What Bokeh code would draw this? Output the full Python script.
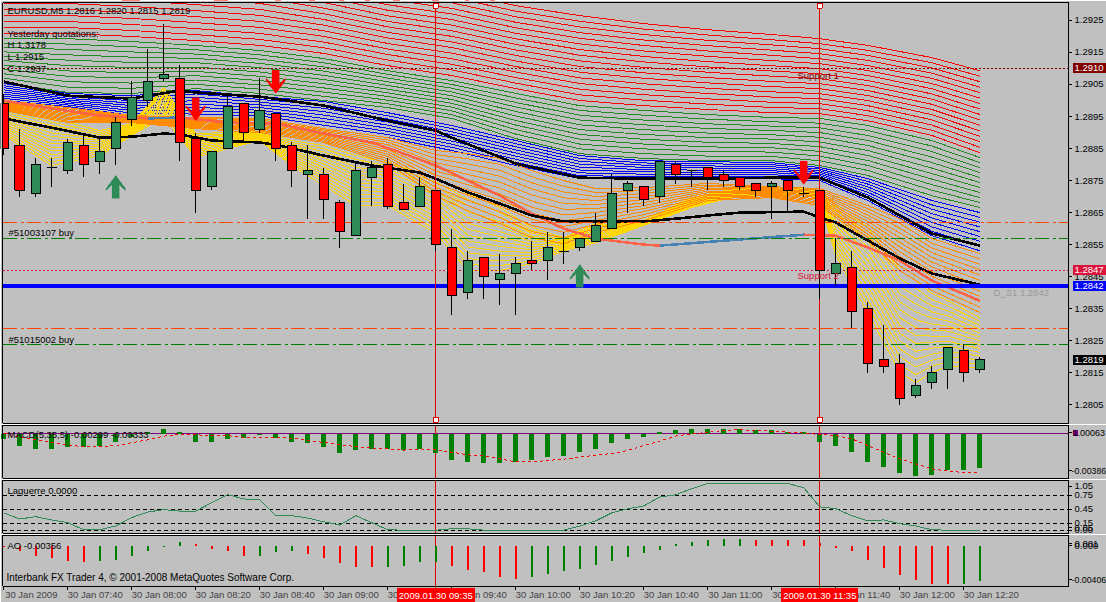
from bokeh.plotting import figure
from bokeh.layouts import column
from bokeh.document import Document
from bokeh.models import Range1d, FixedTicker, Label, LinearAxis, CustomJS
from bokeh.embed import file_html
from bokeh.resources import INLINE

# ---------- candles (EURUSD M5, bar 0 = 07:20) ----------
opens = [1.2899,1.2886,1.2871,1.2879,1.2878,1.2886,1.2881,1.2885,1.2894,1.2900,1.2907,1.2907,1.2888,1.2873,1.2885,1.2899,1.2891,1.2896,1.2886,1.2877,1.2877,1.2868,1.2858,1.2876,1.2880,1.2868,1.2867,1.2872,1.2854,1.2840,1.2851,1.2844,1.2846,1.2850,1.2850,1.2853,1.2854,1.2856,1.2860,1.2872,1.2873,1.2870,1.2880,1.2878,1.2879,1.2877,1.2876,1.2874,1.2873,1.2875,1.2871,1.2872,1.2846,1.2848,1.2835,1.2819,1.2818,1.2808,1.2812,1.2816,1.2822,1.2816]
highs = [1.2902,1.2891,1.2882,1.2882,1.2888,1.2890,1.2888,1.2895,1.2906,1.2916,1.2924,1.2911,1.2890,1.2884,1.2902,1.2899,1.2907,1.2896,1.2887,1.2886,1.2879,1.2869,1.2881,1.2881,1.2882,1.2874,1.2876,1.2872,1.2860,1.2853,1.2851,1.2852,1.2851,1.2856,1.2859,1.2859,1.2857,1.2865,1.2877,1.2875,1.2873,1.2881,1.2881,1.2878,1.2879,1.2878,1.2876,1.2874,1.2875,1.2875,1.2873,1.2872,1.2857,1.2853,1.2837,1.2830,1.2821,1.2813,1.2817,1.2823,1.2824,1.2820]
lows  = [1.2883,1.2870,1.2870,1.2873,1.2877,1.2876,1.2877,1.2880,1.2892,1.2898,1.2906,1.2881,1.2865,1.2872,1.2885,1.2887,1.2890,1.2881,1.2873,1.2863,1.2863,1.2854,1.2858,1.2867,1.2866,1.2866,1.2867,1.2853,1.2833,1.2838,1.2838,1.2836,1.2833,1.2847,1.2844,1.2849,1.2853,1.2856,1.2860,1.2865,1.2867,1.2868,1.2874,1.2873,1.2872,1.2873,1.2872,1.2870,1.2863,1.2865,1.2870,1.2838,1.2842,1.2829,1.2815,1.2815,1.2805,1.2807,1.2810,1.2810,1.2812,1.2815]
closes= [1.2885,1.2872,1.2880,1.2879,1.2887,1.2880,1.2884,1.2893,1.2901,1.2906,1.2908,1.2887,1.2872,1.2884,1.2898,1.2890,1.2897,1.2885,1.2878,1.2878,1.2869,1.2859,1.2878,1.2879,1.2867,1.2866,1.2873,1.2855,1.2839,1.2850,1.2845,1.2846,1.2849,1.2849,1.2854,1.2853,1.2857,1.2861,1.2871,1.2874,1.2869,1.2881,1.2877,1.2878,1.2876,1.2875,1.2873,1.2872,1.2874,1.2872,1.2871,1.2847,1.2849,1.2834,1.2818,1.2817,1.2807,1.2811,1.2815,1.2823,1.2815,1.2819]

# ---------- moving-average bands, edges read at these bars ----------
band_bars = [0,4,8,12,16,20,24,28,32,36,40,44,48,51,54,58,61]
red_top   = [1.29490,1.29490,1.29481,1.29468,1.29453,1.29412,1.29368,1.29340,1.29296,1.29265,1.29240,1.29221,1.29206,1.29193,1.29172,1.29134,1.29093]
red_bot   = [1.29209,1.29209,1.29200,1.29187,1.29172,1.29147,1.29109,1.29078,1.29037,1.29000,1.28984,1.28972,1.28962,1.28959,1.28937,1.28891,1.28837]
green_top = [1.29193,1.29193,1.29184,1.29172,1.29156,1.29131,1.29093,1.29062,1.29022,1.28984,1.28969,1.28956,1.28947,1.28944,1.28922,1.28875,1.28822]
green_bot = [1.29056,1.29025,1.29022,1.29037,1.29022,1.29000,1.28978,1.28944,1.28881,1.28834,1.28819,1.28812,1.28812,1.28797,1.28766,1.28703,1.28666]
blue_top  = [1.29053,1.29022,1.29015,1.29031,1.29012,1.28997,1.28962,1.28922,1.28875,1.28828,1.28812,1.28809,1.28806,1.28791,1.28756,1.28688,1.28650]
blue_bot  = [1.29000,1.28981,1.28953,1.28947,1.28944,1.28912,1.28884,1.28844,1.28797,1.28756,1.28756,1.28756,1.28756,1.28750,1.28688,1.28578,1.28531]

orange_bars = [0,4,8,12,16,20,24,27,29,31,33,35,37,40,44,48,51,54,56,58,61]
orange_top  = [1.29000,1.28978,1.28953,1.28947,1.28944,1.28912,1.28884,1.28844,1.28834,1.28819,1.28781,1.28750,1.28725,1.28728,1.28741,1.28731,1.28725,1.28672,1.28631,1.28569,1.28522]
orange_bot  = [1.28969,1.28931,1.28931,1.28912,1.28900,1.28869,1.28803,1.28703,1.28656,1.28616,1.28572,1.28553,1.28588,1.28625,1.28688,1.28697,1.28672,1.28563,1.28469,1.28407,1.28338]

yellow_bars = [0,3,6,8,10,12,14,16,18,20,22,24,27,29,31,33,35,37,40,43,46,50,51,52,54,56,57,58,59,61]
yellow_top  = [1.28969,1.28944,1.28906,1.28928,1.29040,1.28897,1.28900,1.28903,1.28875,1.28859,1.28828,1.28806,1.28759,1.28709,1.28666,1.28603,1.28572,1.28616,1.28625,1.28697,1.28728,1.28725,1.28719,1.28672,1.28603,1.28469,1.28438,1.28397,1.28375,1.28322]
yellow_bot  = [1.28891,1.28797,1.28828,1.28891,1.28947,1.28822,1.28850,1.28875,1.28797,1.28734,1.28672,1.28672,1.28585,1.28469,1.28469,1.28491,1.28531,1.28556,1.28610,1.28666,1.28703,1.28709,1.28688,1.28516,1.28338,1.28151,1.28119,1.28151,1.28169,1.28166]

upper_bars = [0,4,8,11,12,16,20,24,27,28,32,36,40,44,48,51,54,56,58,61]
upper_line = [1.29059,1.29015,1.29006,1.29031,1.29025,1.29012,1.28984,1.28937,1.28906,1.28884,1.28803,1.28759,1.28756,1.28756,1.28759,1.28759,1.28697,1.28641,1.28585,1.28547]
lower_bars = [0,3,6,8,10,11,13,16,17,20,23,26,27,29,31,33,35,40,42,44,46,50,51,52,54,56,58,61]
lower_line = [1.28944,1.28915,1.28884,1.28887,1.28897,1.28894,1.28875,1.28869,1.28862,1.28828,1.28797,1.28775,1.28756,1.28713,1.28678,1.28641,1.28622,1.28622,1.28631,1.28641,1.28650,1.28653,1.28635,1.28619,1.28563,1.28507,1.28460,1.28425]

salmon_runs = [
    ([0,3,6,9], [1.29000,1.28975,1.28953,1.28944]),
    ([11,14,17,20,23,25,27,29,31,33,35,37,40,41], [1.28947,1.28931,1.28928,1.28897,1.28869,1.28834,1.28797,1.28750,1.28703,1.28647,1.28600,1.28569,1.28550,1.28547]),
    ([50,52,54,56,58,61], [1.28581,1.28578,1.28541,1.28500,1.28438,1.28375]),
]
steel_runs = [
    ([9,11], [1.28944,1.28947]),
    ([41,46,50], [1.28547,1.28566,1.28581]),
]

# ---------- arrows ----------
up_arrow_bars = [7,36]
up_arrow_tips = [1.28766,1.28488]
down_arrow_bars = [12,17,50]
down_arrow_tips = [1.28937,1.29022,1.28738]

# ---------- sub-windows ----------
macd_hist = [-.00049,-.00110,-.00128,-.00136,-.00119,-.00119,-.00110,-.00075,-.00032,.00020,.00046,.00012,-.00067,-.00075,-.00041,-.00035,-.00012,-.00035,-.00067,-.00084,-.00119,-.00171,-.00145,-.00128,-.00136,-.00145,-.00136,-.00171,-.00232,-.00241,-.00258,-.00258,-.00244,-.00232,-.00206,-.00189,-.00162,-.00136,-.00084,-.00041,-.00032,.00020,.00029,.00046,.00046,.00046,.00038,.00029,.00029,.00020,.00020,-.00067,-.00102,-.00162,-.00249,-.00293,-.00345,-.00363,-.00354,-.00319,-.00319,-.00299]
macd_signal = [.00006,-.00029,-.00052,-.00078,-.00096,-.00113,-.00113,-.00102,-.00078,-.00052,-.00020,-.00006,-.00009,-.00015,-.00017,-.00029,-.00029,-.00029,-.00038,-.00058,-.00075,-.00096,-.00110,-.00125,-.00131,-.00142,-.00131,-.00139,-.00160,-.00183,-.00194,-.00218,-.00244,-.00244,-.00232,-.00220,-.00203,-.00186,-.00171,-.00145,-.00102,-.00064,-.00020,0.0,.00012,.00029,.00035,.00029,.00023,.00015,.00006,-.00006,-.00015,-.00044,-.00102,-.00160,-.00218,-.00261,-.00305,-.00325,-.00336,-.00333]
laguerre = [.37,.24,.29,.22,.16,.01,.01,.09,.27,.39,.44,.41,.41,.59,.76,.67,.65,.31,.31,.26,.18,.11,.31,.16,.01,0,0,0,.03,.03,0,0,0,0,0,0,.09,.20,.37,.46,.52,.71,.76,.89,1.0,1.0,1.0,1.0,1.0,1.0,.91,.50,.46,.31,.20,.22,.14,.09,.01,0,0,0]
laguerre_levels = [.75,.45,.15,0.0]
ao_values = [-.0001,-.00059,-.00099,-.00119,-.00149,-.00168,-.00158,-.00139,-.00099,-.00059,-.0001,.0003,.0001,-.0003,-.00059,-.00099,-.00099,-.00069,-.00059,-.00089,-.00119,-.00178,-.00208,-.00208,-.00208,-.00198,-.00168,-.00168,-.00198,-.00238,-.00267,-.00307,-.00327,-.00307,-.00277,-.00257,-.00228,-.00188,-.00149,-.00109,-.00079,-.0004,.0001,.0003,.00059,.00069,.00069,.00059,.00059,.0005,.0005,.0002,-.0002,-.00059,-.00139,-.00218,-.00287,-.00337,-.00376,-.00376,-.00376,-.00356]
ao_up = [0,0,0,0,0,0,1,1,1,1,1,1,0,0,0,0,1,1,1,0,0,0,0,0,1,1,1,1,0,0,0,0,0,1,1,1,1,1,1,1,1,1,1,1,1,1,1,0,0,0,0,0,0,0,0,0,0,0,0,0,1,1]

# ---------- axis and level data ----------
price_ticks = [1.2925,1.2915,1.2905,1.2895,1.2885,1.2875,1.2865,1.2855,1.2845,1.2835,1.2825,1.2815,1.2805]
time_ticks = [0,4,8,12,16,20,24,28,32,36,40,44,48,52,56,60]
time_labels = ["30 Jan 2009","30 Jan 07:40","30 Jan 08:00","30 Jan 08:20","30 Jan 08:40","30 Jan 09:00","30 Jan 09:20","30 Jan 09:40","30 Jan 10:00","30 Jan 10:20","30 Jan 10:40","30 Jan 11:00","30 Jan 11:20","30 Jan 11:40","30 Jan 12:00","30 Jan 12:20"]
marked_bars = [27,51]
marked_labels = ["2009.01.30 09:35","2009.01.30 11:35"]
resistance = 1.2910
support = 1.2847
pivot_s1 = 1.2842
bid = 1.2819
order_stops = [1.2862,1.28288]
order_entries = [1.2857,1.28238]

# ---------- layout: each figure's frame fills it; screen pixels of the window map to data ----------
FONT = "Liberation Sans"
FS = "9.5px"
BG = "#C0C0C0"
X0 = 3.3; DX = 16.0
L, R = 2, 1068
xr = ((L - X0) / DX, (R - X0) / DX)
px = lambda v: (v - X0) / DX
py = lambda v: 1.293122 - 3.122e-5 * v   # main window
ym = lambda v: (433.3 - v) / 11500       # MACD
yl = lambda v: (529.7 - v) / 46.7        # Laguerre
ya = lambda v: (545 - v) / 10112         # AO
bars = list(range(len(opens)))


def make_fig(height, ymap, y0, y1, top, bottom):
    f = figure(width=1106, height=height, output_backend="svg", toolbar_location=None,
               x_range=Range1d(px(0), px(1106)), y_range=Range1d(ymap(y1), ymap(y0)),
               x_axis_location=None, y_axis_location="right", min_border=0,
               background_fill_color=BG, border_fill_color=BG, outline_line_color=None)
    f.grid.visible = False
    ax = f.yaxis[0]
    ax.fixed_location = xr[1]
    ax.bounds = (ymap(bottom), ymap(top))
    ax.axis_line_color = "black"
    ax.major_tick_line_color = "black"
    ax.major_tick_out = 3
    ax.major_tick_in = 0
    ax.minor_tick_line_color = None
    ax.major_label_text_font = FONT
    ax.major_label_text_font_size = FS
    ax.major_label_text_color = "black"
    ax.major_label_standoff = 3
    # top, left and bottom of the window frame (the axis line is its right side)
    t, b = ymap(top), ymap(bottom)
    f.segment([xr[0], xr[0], xr[0]], [t, t, b], [xr[1], xr[0], xr[1]], [t, b, b],
              line_color="black", line_width=1, level="overlay")
    return f


def note(f, text, x, y, color="black", **kw):
    f.add_layout(Label(x=x, y=y, text=text, text_color=color, text_font=FONT,
                       text_font_size=kw.pop("size", FS), text_baseline="middle", **kw))


def fan(f, xs, top, bot, count, color):
    lines = []
    for k in range(count):
        w = k / (count - 1)
        lines.append([t + (b - t) * w for t, b in zip(top, bot)])
    f.multi_line([xs] * count, lines, line_color=color, line_width=1)


# ---------- main window ----------
main = make_fig(424, py, 0, 424, 2, 422.5)
main.yaxis[0].ticker = FixedTicker(ticks=price_ticks)
main.yaxis[0].major_label_overrides = {t: f"{t:.4f}" for t in price_ticks}

fan(main, band_bars, red_top, red_bot, 16, "#FF0000")
fan(main, band_bars, green_top, green_bot, 11, "#228B22")
fan(main, band_bars, blue_top, blue_bot, 9, "#0000FF")
fan(main, yellow_bars, yellow_top, yellow_bot, 14, "#FFD700")
fan(main, orange_bars, orange_top, orange_bot, 12, "#FF8C00")

for xs, ys in salmon_runs:
    main.line(xs, ys, line_color="#FF6347", line_width=2.5)
for xs, ys in steel_runs:
    main.line(xs, ys, line_color="#4682B4", line_width=2.5)
main.line(upper_bars, upper_line, line_color="black", line_width=2.6)
main.line(lower_bars, lower_line, line_color="black", line_width=2.6)

for lv in order_stops:
    main.segment(xr[0], lv, xr[1], lv, line_color="#FF4500", line_dash="14 4 3 3", line_width=1)
for lv in order_entries:
    main.segment(xr[0], lv, xr[1], lv, line_color="#008000", line_dash="14 4 3 3", line_width=1)
main.segment(xr[0], resistance, xr[1], resistance, line_color="#800000", line_dash="2 2", line_width=1)
main.segment(xr[0], support, xr[1], support, line_color="#DC143C", line_dash="2 2", line_width=1)
main.segment(xr[0], pivot_s1, xr[1], pivot_s1, line_color="#0000FF", line_width=4)

main.segment(marked_bars, [py(2)] * 2, marked_bars, [py(424)] * 2, line_color="#E00000", line_width=1)

main.segment(bars, highs, bars, lows, line_color="black", line_width=1)
main.vbar(x=bars, width=0.6,
          bottom=[min(o, c) for o, c in zip(opens, closes)],
          top=[max(o, c) for o, c in zip(opens, closes)],
          fill_color=["#2E8B57" if c >= o else "#FF0000" for o, c in zip(opens, closes)],
          line_color="black", line_width=1)

main.scatter(marked_bars * 2, [py(5)] * 2 + [py(419)] * 2, marker="square", size=5,
             fill_color="white", line_color="#E00000")


def arrow(bar, tip, sign):
    pts = [(0, 0), (9.5, 13), (9.5, 15), (3.5, 9), (3.5, 23), (-3.5, 23), (-3.5, 9), (-9.5, 15), (-9.5, 13)]
    return [bar + a / DX for a, _ in pts], [tip - sign * b * 3.122e-5 for _, b in pts]


for b, t in zip(up_arrow_bars, up_arrow_tips):
    xs, ys = arrow(b, t, 1)
    main.patch(xs, ys, fill_color="#2E8B57", line_color="#2E8B57", line_width=0.5)
for b, t in zip(down_arrow_bars, down_arrow_tips):
    xs, ys = arrow(b, t, -1)
    main.patch(xs, ys, fill_color="#FF0000", line_color="#FF0000", line_width=0.5)

# strips outside the window frame hide what runs past its top and left sides
main.quad(left=px(0), right=px(1106), bottom=py(2), top=py(0), fill_color=BG, line_color=None)
main.quad(left=px(0), right=px(2), bottom=py(424), top=py(0), fill_color=BG, line_color=None)

note(main, "EURUSD,M5  1.2816 1.2820 1.2815 1.2819", px(7), py(10))
note(main, "Yesterday quotations:", px(7), py(33))
note(main, "H 1.3178", px(7), py(44))
note(main, "L 1.2915", px(7), py(56))
note(main, "C 1.2937", px(7), py(68))
note(main, "#51003107 buy", px(8), py(232))
note(main, "#51015002 buy", px(8), py(339))
note(main, "Support 1", px(797), py(75), color="#800000")
note(main, "Support 2", px(797), py(275), color="#DC143C")
note(main, "D_S1 1.2842", px(993), py(292), color="#9A9A9A")

for lv, col in [(resistance, "#800000"), (support, "#DC143C"), (pivot_s1, "#0000FF"), (bid, "black")]:
    note(main, f"{lv:.4f}", px(1072), lv, color="white", background_fill_color=col, padding=2)

# ---------- MACD ----------
macd = make_fig(55, ym, 424, 479, 424.5, 477.5)
macd_side = {ym(432): "0.00063", ym(470): ""}
macd.yaxis[0].ticker = FixedTicker(ticks=list(macd_side))
macd.yaxis[0].major_label_overrides = macd_side
macd.yaxis[0].major_label_standoff = 1
macd.yaxis[0].major_label_text_font_size = "9px"
macd.segment(xr[0], 0, xr[1], 0, line_color="#800080", line_width=1)
macd.segment(marked_bars, [ym(424.5)] * 2, marked_bars, [ym(479)] * 2, line_color="#E00000", line_width=1)
macd.vbar(x=bars, width=0.33, bottom=0, top=macd_hist, fill_color="#008000", line_color=None)
macd.line(bars, macd_signal, line_color="#FF0000", line_dash="3 3", line_width=1)
note(macd, "MACD(5,35,5) -0.00299 -0.00333", px(7), ym(434))
note(macd, "-0.00386", px(1071), ym(470), size="8.8px")
note(macd, "1", px(1072), ym(432), background_fill_color="#800080")

# ---------- Laguerre ----------
lag = make_fig(55, yl, 479, 534, 479.5, 532.5)
lag_side = {yl(485.7): "1.05", .75: "0.75", .45: "0.45", .15: "0.15", 0.05: "0.05", 0.0: "0.00"}
lag.yaxis[0].ticker = FixedTicker(ticks=list(lag_side))
lag.yaxis[0].major_label_overrides = lag_side
for lv in laguerre_levels:
    lag.segment(xr[0], lv, xr[1], lv, line_color="black", line_dash="4 3", line_width=1)
lag.segment(marked_bars, [yl(479)] * 2, marked_bars, [yl(534)] * 2, line_color="#E00000", line_width=1)
lag.line(bars, laguerre, line_color="#2E8B57", line_width=1)
note(lag, "Laguerre 0.0000", px(7), yl(489.5))

# ---------- AO ----------
ao = make_fig(68, ya, 534, 602, 534.5, 585.5)
ao_side = {ya(543): "0.001", 0.0: "0.000", ya(579): ""}
ao.yaxis[0].ticker = FixedTicker(ticks=list(ao_side))
ao.yaxis[0].major_label_overrides = ao_side
ao.segment(marked_bars, [ya(534)] * 2, marked_bars, [ya(589)] * 2, line_color="#E00000", line_width=1)
ao.vbar(x=bars, width=0.14, bottom=0, top=ao_values,
        fill_color=["#008000" if u else "#FF0000" for u in ao_up], line_color=None)
note(ao, "AO -0.00356", px(7), ya(545))
note(ao, "Interbank FX Trader 4, \u00a9 2001-2008 MetaQuotes Software Corp.", px(6), ya(577), size="10px")
note(ao, "-0.00406", px(1071), ya(579), size="8.8px")

tick_axis = LinearAxis(ticker=FixedTicker(ticks=time_ticks), major_label_overrides={t: "" for t in time_ticks},
                       fixed_location=ya(585.5), bounds=xr, major_tick_out=3, major_tick_in=0,
                       minor_tick_line_color=None, axis_line_color=None, major_label_standoff=0,
                       major_label_text_font_size=FS)
ao.add_layout(tick_axis, "below")
shift = 27.5 / DX
ao.extra_x_ranges["labels"] = Range1d(px(0) - shift, px(1106) - shift)
text_axis = LinearAxis(x_range_name="labels", ticker=FixedTicker(ticks=time_ticks),
                       major_label_overrides=dict(zip(time_ticks, time_labels)),
                       fixed_location=ya(579.5), major_tick_line_color=None, minor_tick_line_color=None,
                       axis_line_color=None, major_label_text_font=FONT, major_label_text_font_size=FS,
                       major_label_standoff=3)
ao.add_layout(text_axis, "below")
for b, t in zip(marked_bars, marked_labels):
    ao.add_layout(Label(x=b, y=ya(594.5), text=t, text_color="white", text_font=FONT,
                        text_font_size=FS, text_align="center", text_baseline="middle",
                        background_fill_color="#FF0000", padding=2))

page = column(main, macd, lag, ao, spacing=0)

# hard-edged (non-antialiased) lines, as in the terminal's own drawing
crisp = CustomJS(code="""
function walk(root) {
  root.querySelectorAll('*').forEach(e => {
    if (e.shadowRoot) walk(e.shadowRoot);
    if (e.tagName.toLowerCase() === 'svg') e.setAttribute('shape-rendering', 'crispEdges');
  });
}
walk(document);
setTimeout(() => walk(document), 200);
""")
doc = Document()
doc.add_root(page)
doc.js_on_event("document_ready", crisp)
open("out.html", "w").write(file_html(doc, INLINE))
